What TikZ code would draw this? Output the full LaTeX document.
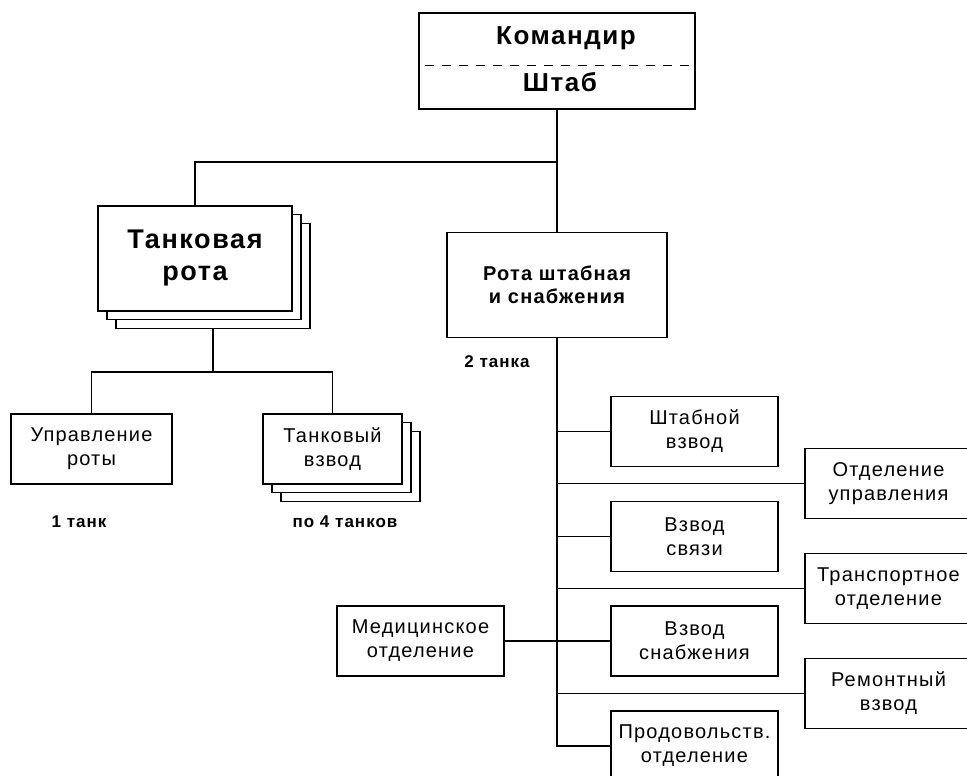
\documentclass[tikz,border=0pt]{standalone}
\usepackage{fontspec}
\setmainfont{Liberation Sans}
\newfontfamily\widefont[LetterSpace=6]{Liberation Sans}
\usetikzlibrary{positioning}

\tikzset{
  unit/.style={draw, line width=1.4pt, fill=white, inner sep=0pt, align=center,
    minimum width=167pt, minimum height=70pt,
    font=\widefont\fontsize{20}{24}\selectfont},
  bigunit/.style={unit, font=\widefont\bfseries\fontsize{27}{32}\selectfont},
  tanks/.style={font=\widefont\bfseries\fontsize{17}{20}\selectfont},
  link/.style={line width=1.4pt}
}

\begin{document}
\begin{tikzpicture}[x=1pt, y=-1pt]

        \def\stackdx{9}
        \def\stackdy{8.6}

        \useasboundingbox (0,0) rectangle (967,776);
        \clip (0,0) rectangle (967,776);

        % commander and staff
        \node [unit, minimum width=276pt, minimum height=96pt] (cmd) at (557,61) {};
        \node [font=\widefont\bfseries\fontsize{26}{30}\selectfont] (cmdname) at (566,38) {Командир};
        \node [font=\widefont\bfseries\fontsize{26}{30}\selectfont] (staffname) at (560,82) {Штаб};
        \draw[line width=1pt, dash pattern=on 9pt off 8pt] ([xshift=7pt, yshift=-5pt]cmd.west) -- ([yshift=-5pt]cmd.east);

        % tank company (stack of three)
        \node [bigunit, minimum width=194pt, minimum height=105pt] (tankco3) at (195+2*\stackdx,258.5+2*\stackdy) {};
        \node [bigunit, minimum width=194pt, minimum height=105pt] (tankco2) at (195+\stackdx,258.5+\stackdy) {};
        \node [bigunit, minimum width=194pt, minimum height=105pt] (tankco) at (195,258.5) {Танковая\\рота};

        % HQ and supply company
        \node [unit, minimum width=220pt, minimum height=105pt,
               font=\widefont\bfseries\fontsize{20}{23}\selectfont] (hqco) at (557,285) {Рота штабная\\и снабжения};
        \node [tanks] (hqtanks) at (497,362) {2 танка};

        % tank company subunits
        \node [unit, minimum width=161pt] (coctrl) at (91.5,449) {Управление\\роты};
        \node [unit, minimum width=139pt] (tplt3) at (332.5+2*\stackdx,449+2*\stackdy) {};
        \node [unit, minimum width=139pt] (tplt2) at (332.5+\stackdx,449+\stackdy) {};
        \node [unit, minimum width=139pt] (tplt) at (332.5,449) {Танковый\\взвод};
        \node [tanks] (cotanks) at (79,522) {1 танк};
        \node [tanks] (plttanks) at (345,522) {по 4 танков};

        % HQ company subunits
        \node [unit] (staffplt) at (694.5,431.5) {Штабной\\взвод};
        \node [unit] (ctrlsec) at (888.5,483.5) {Отделение\\управления};
        \node [unit] (sigplt) at (694.5,536.5) {Взвод\\связи};
        \node [unit] (transsec) at (888.5,588.5) {Транспортное\\отделение};
        \node [unit] (supplt) at (694.5,641) {Взвод\\снабжения};
        \node [unit] (medsec) at (420.5,641) {Медицинское\\отделение};
        \node [unit] (repplt) at (888.5,693.5) {Ремонтный\\взвод};
        \node [unit] (foodsec) at (694.5,746) {Продовольств.\\отделение};

        % connectors
        \coordinate (split) at (557,162);
        \coordinate (tsplit) at (213,372);
        \draw[link] (cmd.south) -- (hqco.north);
        \draw[link] (split) -| (tankco.north);
        \draw[link] (tankco3.south) -- (tsplit);
        \draw[link] (coctrl.north) |- (tsplit) -| (tplt.north);

        \draw[link] (hqco.south) -- (hqco.south |- foodsec.west) -- (foodsec.west);
        \foreach \sub in {staffplt, ctrlsec, sigplt, transsec, supplt, repplt}
          \draw[link] (hqco.south |- \sub.west) -- (\sub.west);
        \draw[link] (medsec.east) -- (hqco.south |- medsec.east);

      \end{tikzpicture}
\end{document}
